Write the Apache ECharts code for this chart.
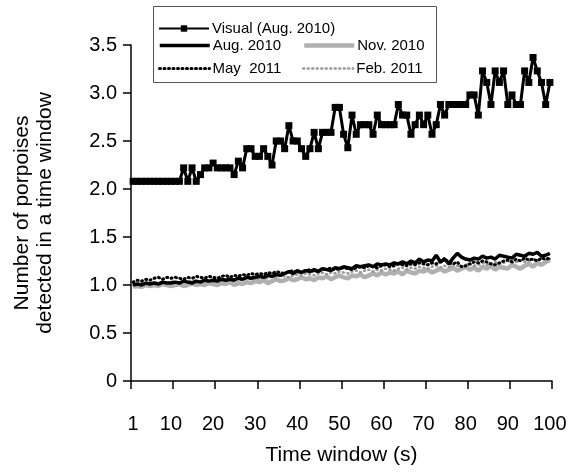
<!DOCTYPE html>
<html>
<head>
<meta charset="utf-8">
<script src="https://cdn.jsdelivr.net/npm/echarts@6/dist/echarts.min.js"></script>
<style>
  html, body { margin: 0; padding: 0; background: #fff; }
  #chart { width: 574px; height: 472px; }
</style>
</head>
<body>
<div id="chart"></div>
<script>
// time windows 1..100 s
var windows = Array.from({ length: 100 }, function (_, i) { return String(i + 1) })

// visual observations (Aug. 2010)
var visual = [
  2.08, 2.08, 2.08, 2.08, 2.08, 2.08, 2.08, 2.08, 2.08, 2.08,
  2.08, 2.08, 2.22, 2.08, 2.22, 2.08, 2.15, 2.22, 2.22, 2.27,
  2.22, 2.22, 2.22, 2.22, 2.15, 2.29, 2.22, 2.42, 2.42, 2.34,
  2.34, 2.42, 2.34, 2.25, 2.50, 2.50, 2.42, 2.66, 2.50, 2.50,
  2.42, 2.34, 2.42, 2.59, 2.42, 2.59, 2.59, 2.59, 2.85, 2.85,
  2.57, 2.43, 2.77, 2.57, 2.67, 2.67, 2.67, 2.57, 2.77, 2.67,
  2.67, 2.67, 2.67, 2.88, 2.77, 2.77, 2.57, 2.67, 2.77, 2.67,
  2.77, 2.57, 2.67, 2.88, 2.77, 2.88, 2.88, 2.88, 2.88, 2.88,
  2.98, 2.98, 2.77, 3.23, 3.11, 2.88, 3.23, 3.11, 3.23, 2.88,
  2.98, 2.88, 2.88, 3.23, 3.11, 3.37, 3.23, 3.11, 2.88, 3.11
]
var aug2010 = [
  1.00, 1.01, 1.00, 1.02, 1.01, 1.02, 1.01, 1.03, 1.02, 1.02,
  1.03, 1.02, 1.04, 1.03, 1.02, 1.04, 1.03, 1.05, 1.04, 1.05,
  1.04, 1.06, 1.05, 1.06, 1.05, 1.07, 1.06, 1.08, 1.07, 1.08,
  1.09, 1.08, 1.10, 1.09, 1.11, 1.10, 1.12, 1.14, 1.12, 1.15,
  1.13, 1.15, 1.14, 1.16, 1.14, 1.17, 1.16, 1.15, 1.18, 1.17,
  1.19, 1.18, 1.17, 1.20, 1.19, 1.20, 1.21, 1.19, 1.22, 1.21,
  1.22, 1.21, 1.23, 1.22, 1.24, 1.22, 1.25, 1.23, 1.27, 1.24,
  1.26, 1.25, 1.31, 1.24, 1.27, 1.22, 1.28, 1.33, 1.29, 1.27,
  1.26, 1.28, 1.27, 1.30, 1.28, 1.29, 1.27, 1.31, 1.30, 1.29,
  1.28, 1.32, 1.31, 1.30, 1.33, 1.32, 1.34, 1.30, 1.31, 1.33
]
var nov2010 = [
  0.98, 0.99, 0.98, 1.00, 0.99, 1.00, 0.99, 1.01, 1.00, 0.99,
  1.00, 1.01, 0.99, 1.00, 1.02, 1.00, 1.01, 1.00, 1.02, 1.01,
  1.00, 1.02, 1.01, 1.03, 1.00, 1.02, 1.01, 1.03, 1.02, 1.04,
  1.03, 1.05, 1.02, 1.04, 1.06, 1.04, 1.05, 1.07, 1.05, 1.06,
  1.08, 1.06, 1.07, 1.05, 1.08, 1.07, 1.09, 1.06, 1.08, 1.10,
  1.08, 1.07, 1.10, 1.09, 1.11, 1.08, 1.10, 1.12, 1.10, 1.13,
  1.11, 1.13, 1.12, 1.14, 1.11, 1.15, 1.13, 1.12, 1.15, 1.14,
  1.16, 1.13, 1.15, 1.17, 1.14, 1.16, 1.18, 1.15, 1.17, 1.19,
  1.16, 1.18, 1.15, 1.19, 1.17, 1.20, 1.16, 1.19, 1.18, 1.17,
  1.21, 1.19, 1.17, 1.20, 1.22, 1.19, 1.23, 1.21, 1.24, 1.26
]
var may2011 = [
  1.03, 1.05, 1.04, 1.06, 1.05, 1.07, 1.08, 1.06, 1.08, 1.07,
  1.08, 1.07, 1.06, 1.08, 1.07, 1.09, 1.08, 1.07, 1.09, 1.08,
  1.07, 1.09, 1.10, 1.08, 1.10, 1.09, 1.11, 1.10, 1.12, 1.11,
  1.12, 1.11, 1.13, 1.12, 1.14, 1.13, 1.12, 1.14, 1.15, 1.13,
  1.14, 1.15, 1.16, 1.14, 1.15, 1.17, 1.16, 1.18, 1.16, 1.17,
  1.18, 1.17, 1.16, 1.18, 1.19, 1.18, 1.20, 1.19, 1.18, 1.20,
  1.21, 1.19, 1.20, 1.22, 1.21, 1.20, 1.22, 1.21, 1.23, 1.22,
  1.21, 1.23, 1.22, 1.24, 1.28, 1.23, 1.22, 1.24, 1.19, 1.20,
  1.22, 1.24, 1.23, 1.25, 1.24, 1.22, 1.21, 1.23, 1.25, 1.26,
  1.24, 1.27, 1.25, 1.28, 1.26, 1.27, 1.25, 1.28, 1.27, 1.28
]
var feb2011 = [
  1.00, 1.01, 1.02, 1.01, 1.02, 1.03, 1.02, 1.03, 1.02, 1.04,
  1.03, 1.02, 1.04, 1.03, 1.05, 1.04, 1.03, 1.05, 1.04, 1.06,
  1.05, 1.04, 1.06, 1.05, 1.07, 1.06, 1.05, 1.07, 1.08, 1.06,
  1.07, 1.08, 1.07, 1.09, 1.08, 1.10, 1.09, 1.08, 1.10, 1.11,
  1.10, 1.12, 1.11, 1.10, 1.12, 1.13, 1.11, 1.13, 1.12, 1.14,
  1.13, 1.12, 1.14, 1.15, 1.13, 1.15, 1.16, 1.14, 1.16, 1.15,
  1.17, 1.16, 1.15, 1.17, 1.18, 1.16, 1.18, 1.17, 1.19, 1.18,
  1.17, 1.19, 1.20, 1.18, 1.20, 1.19, 1.21, 1.20, 1.19, 1.21,
  1.22, 1.20, 1.21, 1.23, 1.21, 1.22, 1.24, 1.22, 1.23, 1.25,
  1.23, 1.24, 1.26, 1.24, 1.25, 1.27, 1.26, 1.28, 1.26, 1.27
]

var FONT = 'Liberation Sans, Arial, sans-serif'

// one legend block per entry so each sits where it does in the figure
function legendAt(name, left, top, withSymbol) {
  return {
    data: [name],
    left: left,
    top: top,
    orient: 'horizontal',
    itemWidth: 50,
    itemHeight: withSymbol ? 8 : 14,
    itemGap: 0,
    padding: 0,
    selectedMode: false,
    itemStyle: withSymbol ? {} : { opacity: 0 },
    lineStyle: { width: withSymbol ? 2 : 'inherit' },
    textStyle: { fontFamily: FONT, fontSize: 15, color: '#000', padding: [0, 0, 0, -2] }
  }
}

var myChart = echarts.init(document.getElementById('chart'))
var option = {
  backgroundColor: '#fff',
  animation: false,
  grid: { left: 131, right: 22, top: 45, bottom: 91 },
  graphic: [{
    type: 'rect',
    z: 1,
    shape: { x: 153.5, y: 6.5, width: 283, height: 76 },
    style: { fill: '#fff', stroke: '#555', lineWidth: 1 }
  }],
  legend: [
    legendAt('Visual (Aug. 2010)', 158, 21, true),
    legendAt('Aug. 2010', 158, 38),
    legendAt('Nov. 2010', 302, 38),
    legendAt('May  2011', 158, 61),
    legendAt('Feb. 2011', 302, 61)
  ],
  xAxis: {
    type: 'category',
    data: windows,
    boundaryGap: true,
    name: 'Time window (s)',
    nameLocation: 'middle',
    nameGap: 64,
    nameTextStyle: { fontFamily: FONT, fontSize: 21, color: '#000' },
    axisLine: { lineStyle: { color: '#000', width: 1.5 } },
    axisTick: { show: true, interval: 9, length: 8, lineStyle: { color: '#000', width: 1.5 } },
    axisLabel: {
      interval: function (index) { return index === 0 || (index + 1) % 10 === 0 },
      margin: 33,
      fontFamily: FONT,
      fontSize: 20,
      color: '#000'
    },
    splitLine: { show: false }
  },
  yAxis: {
    type: 'value',
    min: 0,
    max: 3.5,
    interval: 0.5,
    name: 'Number of porpoises\ndetected in a time window',
    nameLocation: 'middle',
    nameGap: 74,
    nameTextStyle: { fontFamily: FONT, fontSize: 21, color: '#000', lineHeight: 23 },
    axisLine: { show: true, lineStyle: { color: '#000', width: 1.5 } },
    axisTick: { show: true, length: 8, lineStyle: { color: '#000', width: 1.5 } },
    axisLabel: {
      margin: 14,
      fontFamily: FONT,
      fontSize: 20,
      color: '#000',
      formatter: function (v) { return v === 0 ? '0' : v.toFixed(1) }
    },
    splitLine: { show: false }
  },
  series: [
    {
      name: 'Nov. 2010',
      type: 'line',
      data: nov2010,
      symbol: 'none',
      z: 2,
      lineStyle: { color: '#b0b0b0', width: 4.5 },
      itemStyle: { color: '#b0b0b0' }
    },
    {
      name: 'Feb. 2011',
      type: 'line',
      data: feb2011,
      symbol: 'none',
      z: 3,
      lineStyle: { color: '#999999', width: 2.5, type: [1, 3.5], cap: 'round' },
      itemStyle: { color: '#999999' }
    },
    {
      name: 'May  2011',
      type: 'line',
      data: may2011,
      symbol: 'none',
      z: 4,
      lineStyle: { color: '#000', width: 3, type: [1, 3.5], cap: 'round' },
      itemStyle: { color: '#000' }
    },
    {
      name: 'Aug. 2010',
      type: 'line',
      data: aug2010,
      symbol: 'none',
      z: 5,
      lineStyle: { color: '#000', width: 3.5 },
      itemStyle: { color: '#000' }
    },
    {
      name: 'Visual (Aug. 2010)',
      type: 'line',
      data: visual,
      symbol: 'rect',
      symbolSize: 7,
      showAllSymbol: true,
      z: 6,
      lineStyle: { color: '#000', width: 3 },
      itemStyle: { color: '#000' }
    }
  ]
}
myChart.setOption(option)
</script>
</body>
</html>
